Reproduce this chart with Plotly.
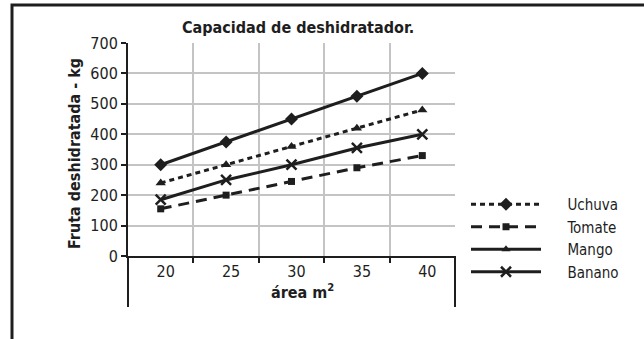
import plotly.graph_objects as go

areas = ["20", "25", "30", "35", "40"]
uchuva = [300, 375, 450, 525, 600]
tomate = [155, 200, 245, 290, 330]
mango = [240, 300, 360, 420, 480]
banano = [185, 250, 300, 355, 400]
y_ticks = [0, 100, 200, 300, 400, 500, 600, 700]

FONT = "DejaVu Sans Condensed"
INK = "#1e1e1e"

W, H = 644, 339
L, R, T, B = 128, 455, 43, 256   # plot area in pixels


def px(x):
    return (x - L) / (R - L)


def py(y):
    return (B - y) / (B - T)


fig = go.Figure()

plot_styles = [
    ("Uchuva", uchuva, "solid", "diamond", 10),
    ("Tomate", tomate, "11px,7px", "square", 7),
    ("Mango", mango, "5px,4px", "triangle-up", 9),
    ("Banano", banano, "solid", "x-thin-open", 10),
]
for name, vals, dash, sym, sz in plot_styles:
    fig.add_trace(go.Scatter(
        x=areas, y=vals, name=name, mode="lines+markers", showlegend=False,
        line=dict(color=INK, width=3, dash=dash),
        marker=dict(symbol=sym, size=sz, color=INK,
                    line=dict(color=INK, width=2.5 if sym.startswith("x") else 0)),
    ))

legend_styles = [
    ("Uchuva", "5px,4px", "diamond", 10),
    ("Tomate", "11px,7px", "square", 7),
    ("Mango", "solid", "triangle-up", 8),
    ("Banano", "solid", "x-thin-open", 10),
]
for name, dash, sym, sz in legend_styles:
    fig.add_trace(go.Scatter(
        x=[None], y=[None], name="\u00a0" * 5 + name, mode="lines+markers",
        line=dict(color=INK, width=3, dash=dash),
        marker=dict(symbol=sym, size=sz, color=INK,
                    line=dict(color=INK, width=2.5 if sym.startswith("x") else 0)),
    ))

shapes = [
    dict(type="path", xref="paper", yref="paper",
         path=f"M {px(12)},{py(350)} L {px(12)},{py(5)} L {px(660)},{py(5)}",
         line=dict(color=INK, width=3)),
    dict(type="line", xref="paper", yref="paper", x0=0, x1=0, y0=0, y1=py(307),
         line=dict(color=INK, width=2)),
    dict(type="line", xref="paper", yref="paper", x0=1, x1=1, y0=0, y1=py(307),
         line=dict(color=INK, width=2)),
]

annotations = [
    dict(text="<b>Capacidad de deshidratador.</b>", xref="paper", yref="paper",
         x=px(298), y=py(27), showarrow=False, xanchor="center", yanchor="middle",
         font=dict(family=FONT, size=16, color=INK)),
    dict(text="<b>Fruta deshidratada - kg</b>", xref="paper", yref="paper",
         x=px(74), y=py(154), showarrow=False, textangle=-90,
         xanchor="center", yanchor="middle",
         font=dict(family=FONT, size=16, color=INK)),
    dict(text="<b>área m<sup>2</sup></b>", xref="paper", yref="paper",
         x=px(302), y=py(291), showarrow=False, xanchor="center", yanchor="middle",
         font=dict(family=FONT, size=16, color=INK)),
]

fig.update_layout(
    width=W, height=H,
    margin=dict(l=L, r=W - R, t=T, b=H - B, pad=0),
    paper_bgcolor="white", plot_bgcolor="white",
    font=dict(family=FONT, size=15, color=INK),
    showlegend=True,
    legend=dict(x=px(466), y=py(188), xanchor="left", yanchor="top",
                font=dict(family=FONT, size=15, color=INK),
                itemwidth=70, tracegroupgap=0, bgcolor="rgba(0,0,0,0)"),
    shapes=shapes,
    annotations=annotations,
    xaxis=dict(type="category", tickson="boundaries", range=[-0.5, 4.5],
               showgrid=True, gridcolor="#c4c4c4", gridwidth=2,
               showline=True, linecolor=INK, linewidth=2,
               ticks="outside", ticklen=5, tickwidth=2, tickcolor=INK,
               ticklabelshift=5, tickfont=dict(family=FONT, size=16, color=INK),
               zeroline=False),
    yaxis=dict(range=[0, 700], tickvals=y_ticks,
               showgrid=True, gridcolor="#c4c4c4", gridwidth=2,
               showline=True, linecolor=INK, linewidth=2,
               ticks="outside", ticklen=5, tickwidth=2, tickcolor=INK,
               tickfont=dict(family=FONT, size=16, color=INK),
               zeroline=False),
)

fig.write_html("out.html")
